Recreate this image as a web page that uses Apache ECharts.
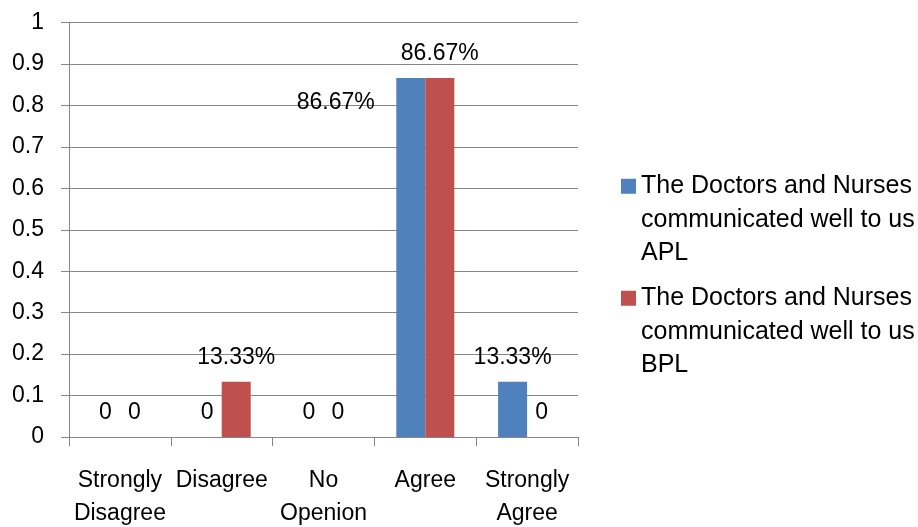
<!DOCTYPE html>
<html>
<head>
<meta charset="utf-8">
<script src="https://cdn.jsdelivr.net/npm/echarts@6/dist/echarts.min.js"></script>
<style>
html,body{margin:0;padding:0;background:#fff;}
#chart{width:918px;height:527px;}
</style>
</head>
<body>
<div id="chart"></div>
<script>
var categories = ['Strongly\nDisagree', 'Disagree', 'No\nOpenion', 'Agree', 'Strongly\nAgree'];
var seriesNames = [
  'The Doctors and Nurses communicated well to us APL',
  'The Doctors and Nurses communicated well to us BPL'
];
var aplValues = [0, 0, 0, 0.8667, 0.1333];
var bplValues = [0, 0.1333, 0, 0.8667, 0];
var yTicks = { min: 0, max: 1, interval: 0.1 };

var FONT = '"Liberation Sans", Arial, sans-serif';
var GRAY = '#868686';

function pctLabel(p) {
  var v = p.value;
  return v === 0 ? '0' : (v * 100).toFixed(2) + '%';
}

function buildData(values, shifted) {
  return values.map(function (v, i) {
    var item = { value: v };
    if (shifted && i === 3) {
      item.label = { offset: [-75, 49] };
    }
    return item;
  });
}

function legendFormatter(name) {
  return name.replace(' communicated', '\ncommunicated').replace(/ (APL|BPL)$/, '\n$1');
}

var legendText = { fontFamily: FONT, fontSize: 25, color: '#000', lineHeight: 33.5 };
// square at the top of a tall icon box so it lines up with the first text line
var legendIcon = 'path://M0,0H15V15H0Z M0,82H15V82Z';

function makeLegend(name, top) {
  return {
    data: [name], orient: 'vertical', left: 621, top: top, padding: 0,
    itemWidth: 15, itemHeight: 82, icon: legendIcon, itemGap: 0,
    formatter: legendFormatter, textStyle: legendText, selectedMode: false
  };
}

var chart = echarts.init(document.getElementById('chart'), null, { renderer: 'canvas' });
chart.setOption({
  animation: false,
  backgroundColor: '#fff',
  grid: { left: 69, right: 340, top: 22.7, bottom: 90, containLabel: false, outerBoundsMode: 'none' },
  legend: [makeLegend(seriesNames[0], 169.5), makeLegend(seriesNames[1], 281.5)],
  xAxis: {
    type: 'category',
    data: categories,
    axisLine: { show: true, lineStyle: { color: GRAY, width: 1 } },
    axisTick: { show: true, length: 9, alignWithLabel: false, lineStyle: { color: GRAY } },
    axisLabel: {
      fontFamily: FONT, fontSize: 23, color: '#000', lineHeight: 33,
      margin: 27, interval: 0
    },
    splitLine: { show: false }
  },
  yAxis: {
    type: 'value',
    min: yTicks.min, max: yTicks.max, interval: yTicks.interval,
    axisLine: { show: true, lineStyle: { color: GRAY, width: 1 } },
    axisTick: { show: true, length: 8, lineStyle: { color: GRAY } },
    axisLabel: {
      fontFamily: FONT, fontSize: 23, color: '#000', margin: 25,
      formatter: function (v) { return String(Math.round(v * 10) / 10); }
    },
    splitLine: { show: true, lineStyle: { color: GRAY, width: 1 } }
  },
  series: [
    {
      name: seriesNames[0], type: 'bar', data: buildData(aplValues, true),
      itemStyle: { color: '#4F81BD' },
      barGap: '0%', barCategoryGap: '43%',
      label: {
        show: true, position: 'top', distance: 13, formatter: pctLabel,
        fontFamily: FONT, fontSize: 23, color: '#000'
      }
    },
    {
      name: seriesNames[1], type: 'bar', data: buildData(bplValues, false),
      itemStyle: { color: '#C0504D' },
      barGap: '0%', barCategoryGap: '43%',
      label: {
        show: true, position: 'top', distance: 13, formatter: pctLabel,
        fontFamily: FONT, fontSize: 23, color: '#000'
      }
    }
  ]
});
</script>
</body>
</html>
